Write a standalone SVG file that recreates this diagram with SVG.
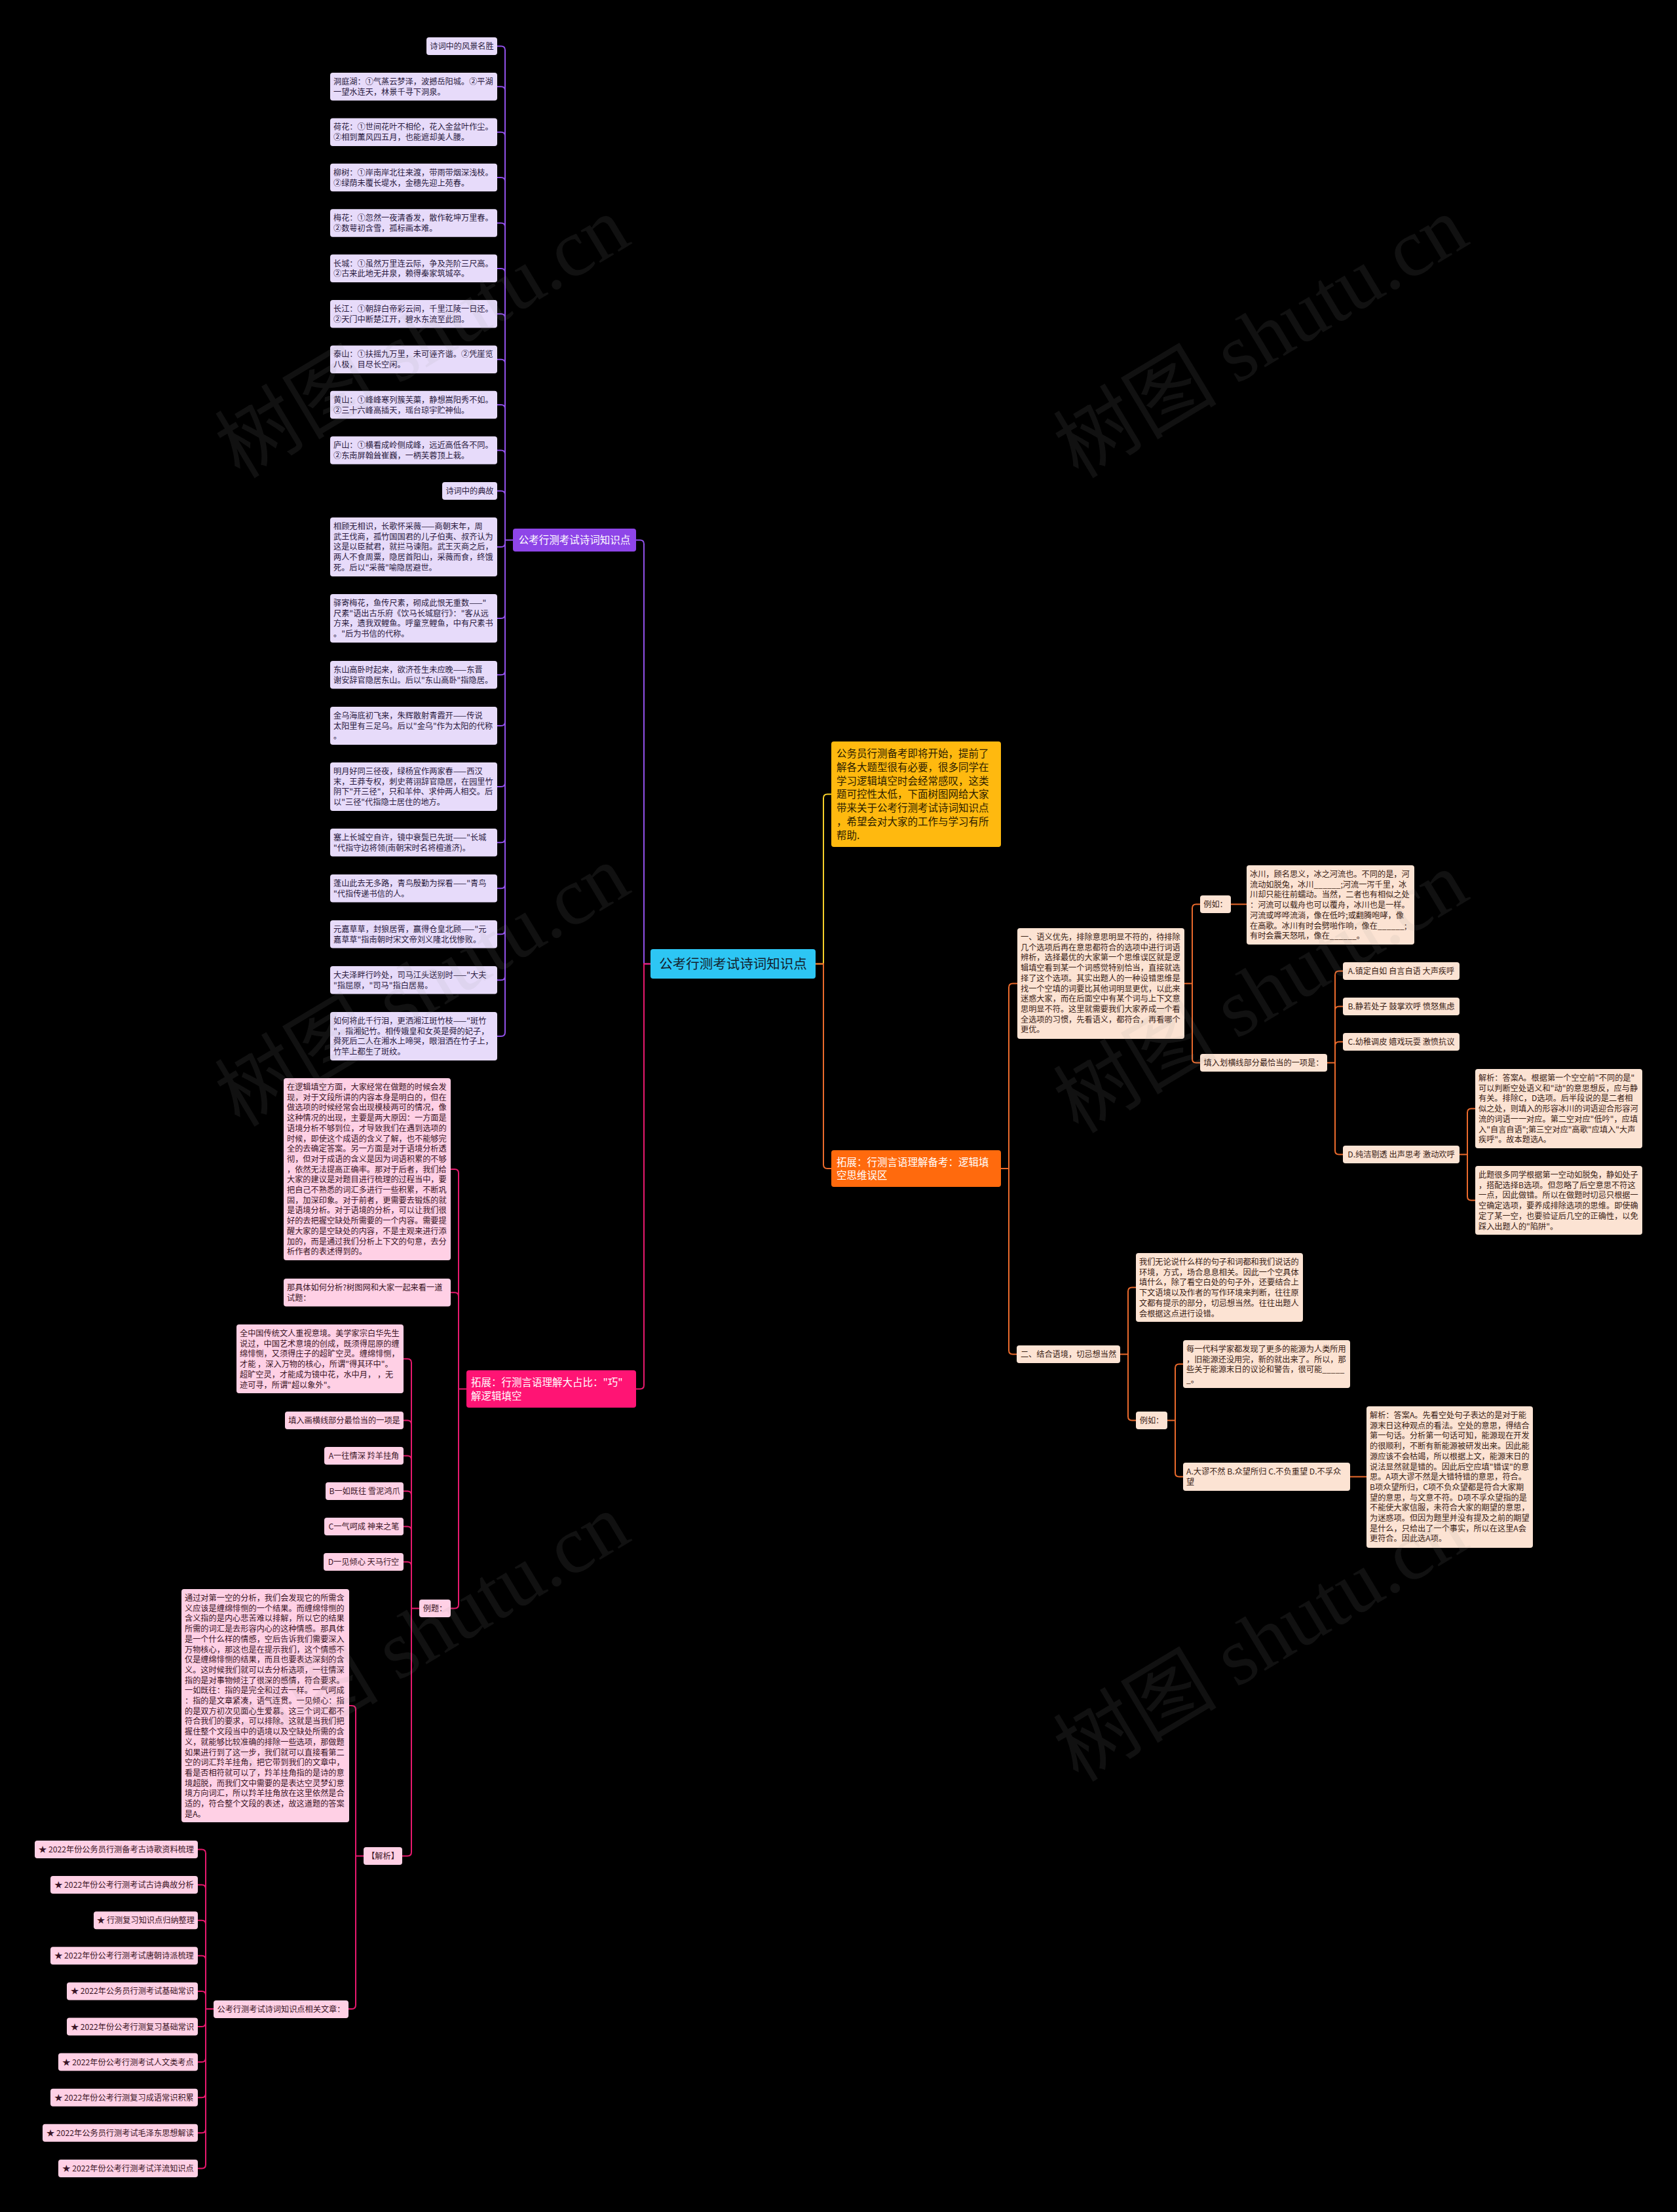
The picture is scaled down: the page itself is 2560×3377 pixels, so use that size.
<svg xmlns="http://www.w3.org/2000/svg" width="2560" height="3377" viewBox="0 0 2560 3377">
<style>
text{font-family:"Noto Sans CJK SC","Noto Sans",sans-serif}
.s{font-size:12.2px}
.m{font-size:15.5px}
.c{text-anchor:middle}
.pl{fill:#E7DBFA}
.pt{fill:#2A1A40}
.kl{fill:#FFD0E5}
.kt{fill:#3A1526}
.ol{fill:#FCE3D3}
.ot{fill:#3A2215}
.cp{fill:none;stroke:#9050E8;stroke-width:2}
.ck{fill:none;stroke:#E8196E;stroke-width:2}
.co{fill:none;stroke:#EA6A2C;stroke-width:2}
.cy{fill:none;stroke:#F7D02A;stroke-width:2}
.wm{font-family:"Liberation Serif","Noto Sans CJK SC",serif;font-size:125px;fill:#999;fill-opacity:.11;text-anchor:middle}
</style>
<rect width="2560" height="3377" fill="#000"/>

<g id="connectors">
<path class="cp" d="M993 1471.5H983V830.5Q983 824.5 977 824.5H971"/>
<path class="ck" d="M993 1471.5H983V2114.5Q983 2120.5 977 2120.5H971"/>
<path class="cy" d="M1245 1471.5H1257V1218.5Q1257 1212.5 1263 1212.5H1269"/>
<path class="co" d="M1245 1471.5H1257V1778Q1257 1784 1263 1784H1269"/>
<path class="cp" d="M783 824.5H771V76.5Q771 70.5 765 70.5H759M783 824.5H771V138.3Q771 132.3 765 132.3H759M783 824.5H771V207.7Q771 201.7 765 201.7H759M783 824.5H771V277.1Q771 271.1 765 271.1H759M783 824.5H771V346.5Q771 340.5 765 340.5H759M783 824.5H771V415.9Q771 409.9 765 409.9H759M783 824.5H771V485.3Q771 479.3 765 479.3H759M783 824.5H771V554.7Q771 548.7 765 548.7H759M783 824.5H771V624.1Q771 618.1 765 618.1H759M783 824.5H771V693.5Q771 687.5 765 687.5H759M783 824.5H771V755.5Q771 749.5 765 749.5H759M783 824.5H771V829Q771 835 765 835H759M783 824.5H771V938Q771 944 765 944H759M783 824.5H771V1024.3Q771 1030.3 765 1030.3H759M783 824.5H771V1102Q771 1108 765 1108H759M783 824.5H771V1195Q771 1201 765 1201H759M783 824.5H771V1280.3Q771 1286.3 765 1286.3H759M783 824.5H771V1350.3Q771 1356.3 765 1356.3H759M783 824.5H771V1420.3Q771 1426.3 765 1426.3H759M783 824.5H771V1490.3Q771 1496.3 765 1496.3H759M783 824.5H771V1576Q771 1582 765 1582H759"/>
<path class="ck" d="M712 2120.5H700V1791Q700 1785 694 1785H688M712 2120.5H700V1979.3Q700 1973.3 694 1973.3H688M712 2120.5H700V2449.5Q700 2455.5 694 2455.5H688"/>
<path class="ck" d="M640 2455.5H628V2080.5Q628 2074.5 622 2074.5H616M640 2455.5H628V2174.5Q628 2168.5 622 2168.5H616M640 2455.5H628V2228.5Q628 2222.5 622 2222.5H616M640 2455.5H628V2282.5Q628 2276.5 622 2276.5H616M640 2455.5H628V2336.5Q628 2330.5 622 2330.5H616M640 2455.5H628V2390.5Q628 2384.5 622 2384.5H616M640 2455.5H628V2827.5Q628 2833.5 622 2833.5H614"/>
<path class="ck" d="M555 2833.5H543V2610Q543 2604 537 2604H533M555 2833.5H543V3061Q543 3067 537 3067H532"/>
<path class="ck" d="M326 3067H314V2829.5Q314 2823.5 308 2823.5H302M326 3067H314V2883.6Q314 2877.6 308 2877.6H302M326 3067H314V2937.7Q314 2931.7 308 2931.7H302M326 3067H314V2991.8Q314 2985.8 308 2985.8H302M326 3067H314V3045.9Q314 3039.9 308 3039.9H302M326 3067H314V3088Q314 3094 308 3094H302M326 3067H314V3142.1Q314 3148.1 308 3148.1H302M326 3067H314V3196.2Q314 3202.2 308 3202.2H302M326 3067H314V3250.3Q314 3256.3 308 3256.3H302M326 3067H314V3304.4Q314 3310.4 308 3310.4H302"/>
<path class="co" d="M1528 1784H1540V1507.5Q1540 1501.5 1546 1501.5H1553M1528 1784H1540V2061.5Q1540 2067.5 1546 2067.5H1552"/>
<path class="co" d="M1808 1501.5H1820V1386.5Q1820 1380.5 1826 1380.5H1832M1808 1501.5H1820V1616.5Q1820 1622.5 1826 1622.5H1832M1879 1380.5H1903"/>
<path class="co" d="M2026 1622.5H2038V1488.5Q2038 1482.5 2044 1482.5H2050M2026 1622.5H2038V1542.5Q2038 1536.5 2044 1536.5H2050M2026 1622.5H2038V1596.5Q2038 1590.5 2044 1590.5H2050M2026 1622.5H2038V1756.5Q2038 1762.5 2044 1762.5H2050"/>
<path class="co" d="M2228 1762.5H2240V1698.5Q2240 1692.5 2246 1692.5H2252M2228 1762.5H2240V1826.5Q2240 1832.5 2246 1832.5H2252"/>
<path class="co" d="M1710 2067.5H1722V1971.5Q1722 1965.5 1728 1965.5H1734M1710 2067.5H1722V2162.5Q1722 2168.5 1728 2168.5H1734"/>
<path class="co" d="M1782 2168.5H1794V2088.5Q1794 2082.5 1800 2082.5H1806M1782 2168.5H1794V2248.5Q1794 2254.5 1800 2254.5H1806M2061 2254.5H2086"/>
</g>

<g id="root"><rect x="993" y="1449" width="252" height="45" rx="4" fill="#2DC6F4"/><text x="1119" y="1479" class="c" font-size="20.5" fill="#13222E">公考行测考试诗词知识点</text></g>

<g id="intro"><rect x="1269" y="1132" width="259" height="161" rx="4" fill="#FFB90F"/>
<text class="m" x="1277" y="1156" fill="#2B1D00"><tspan x="1277">公务员行测备考即将开始，提前了</tspan><tspan x="1277" dy="20.8">解各大题型很有必要，很多同学在</tspan><tspan x="1277" dy="20.8">学习逻辑填空时会经常感叹，这类</tspan><tspan x="1277" dy="20.8">题可控性太低，下面树图网给大家</tspan><tspan x="1277" dy="20.8">带来关于公考行测考试诗词知识点</tspan><tspan x="1277" dy="20.8">，希望会对大家的工作与学习有所</tspan><tspan x="1277" dy="20.8">帮助.</tspan></text></g>

<g id="purple-main"><rect x="783" y="807" width="188" height="35" rx="4" fill="#8E45E8"/><text class="m c" x="877" y="830.4" fill="#fff">公考行测考试诗词知识点</text></g>

<g id="p0"><rect class="pl" x="651" y="57" width="108" height="27" rx="4"/><text class="s pt c" x="705" y="75">诗词中的风景名胜</text></g>
<g id="p1"><rect class="pl" x="504" y="111" width="255" height="42.5" rx="4"/><text class="s pt" x="509" y="129"><tspan x="509">洞庭湖：①气蒸云梦泽，波撼岳阳城。②平湖</tspan><tspan x="509" dy="15.7">一望水连天，林景千寻下洞泉。</tspan></text></g>
<g id="p2"><rect class="pl" x="504" y="180.4" width="255" height="42.5" rx="4"/><text class="s pt" x="509" y="198.4"><tspan x="509">荷花：①世间花叶不相伦，花入金盆叶作尘。</tspan><tspan x="509" dy="15.7">②相到薰风四五月，也能遮却美人腰。</tspan></text></g>
<g id="p3"><rect class="pl" x="504" y="249.8" width="255" height="42.5" rx="4"/><text class="s pt" x="509" y="267.8"><tspan x="509">柳树：①岸南岸北往来渡，带雨带烟深浅枝。</tspan><tspan x="509" dy="15.7">②绿荫未覆长堤水，金穗先迎上苑春。</tspan></text></g>
<g id="p4"><rect class="pl" x="504" y="319.2" width="255" height="42.5" rx="4"/><text class="s pt" x="509" y="337.2"><tspan x="509">梅花：①忽然一夜清香发，散作乾坤万里春。</tspan><tspan x="509" dy="15.7">②数萼初含雪，孤标画本难。</tspan></text></g>
<g id="p5"><rect class="pl" x="504" y="388.6" width="255" height="42.5" rx="4"/><text class="s pt" x="509" y="406.6"><tspan x="509">长城：①虽然万里连云际，争及尧阶三尺高。</tspan><tspan x="509" dy="15.7">②古来此地无井泉，赖得秦家筑城卒。</tspan></text></g>
<g id="p6"><rect class="pl" x="504" y="458" width="255" height="42.5" rx="4"/><text class="s pt" x="509" y="476"><tspan x="509">长江：①朝辞白帝彩云间，千里江陵一日还。</tspan><tspan x="509" dy="15.7">②天门中断楚江开，碧水东流至此回。</tspan></text></g>
<g id="p7"><rect class="pl" x="504" y="527.4" width="255" height="42.5" rx="4"/><text class="s pt" x="509" y="545.4"><tspan x="509">泰山：①扶摇九万里，未可诬齐谐。②凭崖览</tspan><tspan x="509" dy="15.7">八极，目尽长空闲。</tspan></text></g>
<g id="p8"><rect class="pl" x="504" y="596.8" width="255" height="42.5" rx="4"/><text class="s pt" x="509" y="614.8"><tspan x="509">黄山：①峰峰寒列簇芙蕖，静想嵩阳秀不如。</tspan><tspan x="509" dy="15.7">②三十六峰高插天，瑶台琼宇贮神仙。</tspan></text></g>
<g id="p9"><rect class="pl" x="504" y="666.2" width="255" height="42.5" rx="4"/><text class="s pt" x="509" y="684.2"><tspan x="509">庐山：①横看成岭侧成峰，远近高低各不同。</tspan><tspan x="509" dy="15.7">②东南屏翰耸崔巍，一柄芙蓉顶上栽。</tspan></text></g>
<g id="p10"><rect class="pl" x="675" y="736" width="84" height="27" rx="4"/><text class="s pt c" x="717" y="754">诗词中的典故</text></g>
<g id="p11"><rect class="pl" x="504" y="790" width="255" height="90" rx="4"/><text class="s pt" x="509" y="808"><tspan x="509">相顾无相识，长歌怀采薇——商朝末年，周</tspan><tspan x="509" dy="15.7">武王伐商，孤竹国国君的儿子伯夷、叔齐认为</tspan><tspan x="509" dy="15.7">这是以臣弑君，就拦马谏阻。武王灭商之后，</tspan><tspan x="509" dy="15.7">两人不食周粟，隐居首阳山，采薇而食，终饿</tspan><tspan x="509" dy="15.7">死。后以"采薇"喻隐居避世。</tspan></text></g>
<g id="p12"><rect class="pl" x="504" y="907" width="255" height="74" rx="4"/><text class="s pt" x="509" y="925"><tspan x="509">驿寄梅花，鱼传尺素，砌成此恨无重数——"</tspan><tspan x="509" dy="15.7">尺素"语出古乐府《饮马长城窟行》："客从远</tspan><tspan x="509" dy="15.7">方来，遗我双鲤鱼。呼童烹鲤鱼，中有尺素书</tspan><tspan x="509" dy="15.7">。"后为书信的代称。</tspan></text></g>
<g id="p13"><rect class="pl" x="504" y="1009" width="255" height="42.5" rx="4"/><text class="s pt" x="509" y="1027"><tspan x="509">东山高卧时起来，欲济苍生未应晚——东晋</tspan><tspan x="509" dy="15.7">谢安辞官隐居东山。后以"东山高卧"指隐居。</tspan></text></g>
<g id="p14"><rect class="pl" x="504" y="1079" width="255" height="58" rx="4"/><text class="s pt" x="509" y="1097"><tspan x="509">金乌海底初飞来，朱辉散射青霞开——传说</tspan><tspan x="509" dy="15.7">太阳里有三足乌。后以"金乌"作为太阳的代称</tspan><tspan x="509" dy="15.7">。</tspan></text></g>
<g id="p15"><rect class="pl" x="504" y="1164" width="255" height="74" rx="4"/><text class="s pt" x="509" y="1182"><tspan x="509">明月好同三径夜，绿杨宜作两家春——西汉</tspan><tspan x="509" dy="15.7">末，王莽专权，刺史蒋诩辞官隐居，在园里竹</tspan><tspan x="509" dy="15.7">阴下"开三径"，只和羊仲、求仲两人相交。后</tspan><tspan x="509" dy="15.7">以"三径"代指隐士居住的地方。</tspan></text></g>
<g id="p16"><rect class="pl" x="504" y="1265" width="255" height="42.5" rx="4"/><text class="s pt" x="509" y="1283"><tspan x="509">塞上长城空自许，镜中衰鬓已先斑——"长城</tspan><tspan x="509" dy="15.7">"代指守边将领(南朝宋时名将檀道济)。</tspan></text></g>
<g id="p17"><rect class="pl" x="504" y="1335" width="255" height="42.5" rx="4"/><text class="s pt" x="509" y="1353"><tspan x="509">蓬山此去无多路，青鸟殷勤为探看——"青鸟</tspan><tspan x="509" dy="15.7">"代指传递书信的人。</tspan></text></g>
<g id="p18"><rect class="pl" x="504" y="1405" width="255" height="42.5" rx="4"/><text class="s pt" x="509" y="1423"><tspan x="509">元嘉草草，封狼居胥，赢得仓皇北顾——"元</tspan><tspan x="509" dy="15.7">嘉草草"指南朝时宋文帝刘义隆北伐惨败。</tspan></text></g>
<g id="p19"><rect class="pl" x="504" y="1475" width="255" height="42.5" rx="4"/><text class="s pt" x="509" y="1493"><tspan x="509">大夫泽畔行吟处，司马江头送别时——"大夫</tspan><tspan x="509" dy="15.7">"指屈原，"司马"指白居易。</tspan></text></g>
<g id="p20"><rect class="pl" x="504" y="1545" width="255" height="74" rx="4"/><text class="s pt" x="509" y="1563"><tspan x="509">如何将此千行泪，更洒湘江斑竹枝——"斑竹</tspan><tspan x="509" dy="15.7">"，指湘妃竹。相传娥皇和女英是舜的妃子，</tspan><tspan x="509" dy="15.7">舜死后二人在湘水上啼哭，眼泪洒在竹子上，</tspan><tspan x="509" dy="15.7">竹竿上都生了斑纹。</tspan></text></g>

<g id="pink-main"><rect x="712" y="2092" width="259" height="57" rx="4" fill="#FF1474"/><text class="m" x="719" y="2116" fill="#fff"><tspan x="719">拓展：行测言语理解大占比："巧"</tspan><tspan x="719" dy="20.8">解逻辑填空</tspan></text></g>
<g id="k1"><rect class="kl" x="433" y="1646" width="255" height="278" rx="4"/><text class="s kt" x="438" y="1664"><tspan x="438">在逻辑填空方面，大家经常在做题的时候会发</tspan><tspan x="438" dy="15.7">现，对于文段所讲的内容本身是明白的，但在</tspan><tspan x="438" dy="15.7">做选项的时候经常会出现模棱两可的情况，像</tspan><tspan x="438" dy="15.7">这种情况的出现，主要是两大原因：一方面是</tspan><tspan x="438" dy="15.7">语境分析不够到位，才导致我们在遇到选项的</tspan><tspan x="438" dy="15.7">时候，即使这个成语的含义了解，也不能够完</tspan><tspan x="438" dy="15.7">全的去确定答案。另一方面是对于语境分析透</tspan><tspan x="438" dy="15.7">彻，但对于成语的含义是因为词语积累的不够</tspan><tspan x="438" dy="15.7">，依然无法提高正确率。那对于后者，我们给</tspan><tspan x="438" dy="15.7">大家的建议是对题目进行梳理的过程当中，要</tspan><tspan x="438" dy="15.7">把自己不熟悉的词汇多进行一些积累，不断巩</tspan><tspan x="438" dy="15.7">固，加深印象。对于前者，更需要去锻炼的就</tspan><tspan x="438" dy="15.7">是语境分析。对于语境的分析，可以让我们很</tspan><tspan x="438" dy="15.7">好的去把握空缺处所需要的一个内容。需要提</tspan><tspan x="438" dy="15.7">醒大家的是空缺处的内容，不是主观来进行添</tspan><tspan x="438" dy="15.7">加的，而是通过我们分析上下文的句意，去分</tspan><tspan x="438" dy="15.7">析作者的表述得到的。</tspan></text></g>
<g id="k2"><rect class="kl" x="433" y="1952" width="255" height="42.5" rx="4"/><text class="s kt" x="438" y="1970"><tspan x="438">那具体如何分析?树图网和大家一起来看一道</tspan><tspan x="438" dy="15.7">试题：</tspan></text></g>
<g id="k3"><rect class="kl" x="640" y="2442" width="48" height="27" rx="4"/><text class="s kt c" x="664" y="2460">例题：</text></g>
<g id="k4"><rect class="kl" x="361" y="2022" width="255" height="105" rx="4"/><text class="s kt" x="366" y="2040"><tspan x="366">全中国传统文人重视意境。美学家宗白华先生</tspan><tspan x="366" dy="15.7">说过，中国艺术意境的创成，既须得屈原的缠</tspan><tspan x="366" dy="15.7">绵悱恻，又须得庄子的超旷空灵。缠绵悱恻，</tspan><tspan x="366" dy="15.7">才能 ，深入万物的核心，所谓"得其环中"。</tspan><tspan x="366" dy="15.7">超旷空灵，才能成为镜中花，水中月， ，无</tspan><tspan x="366" dy="15.7">迹可寻，所谓"超以象外"。</tspan></text></g>
<g id="k5"><rect class="kl" x="435" y="2155" width="181" height="27" rx="4"/><text class="s kt c" x="525.5" y="2173">填入画横线部分最恰当的一项是</text></g>
<g id="k6"><rect class="kl" x="495" y="2209" width="121" height="27" rx="4"/><text class="s kt c" x="555.5" y="2227">A一往情深 羚羊挂角</text></g>
<g id="k7"><rect class="kl" x="497" y="2263" width="119" height="27" rx="4"/><text class="s kt c" x="556.5" y="2281">B一如既往 雪泥鸿爪</text></g>
<g id="k8"><rect class="kl" x="495" y="2317" width="121" height="27" rx="4"/><text class="s kt c" x="555.5" y="2335">C一气呵成 神来之笔</text></g>
<g id="k9"><rect class="kl" x="494" y="2371" width="122" height="27" rx="4"/><text class="s kt c" x="555" y="2389">D一见倾心 天马行空</text></g>
<g id="k10"><rect class="kl" x="555" y="2820" width="59" height="27" rx="4"/><text class="s kt c" x="584.5" y="2838">【解析】</text></g>
<g id="k11"><rect class="kl" x="277" y="2426" width="256" height="356" rx="4"/><text class="s kt" x="282" y="2444"><tspan x="282">通过对第一空的分析，我们会发现它的所需含</tspan><tspan x="282" dy="15.7">义应该是缠绵悱恻的一个结果。而缠绵悱恻的</tspan><tspan x="282" dy="15.7">含义指的是内心悲苦难以排解，所以它的结果</tspan><tspan x="282" dy="15.7">所需的词汇是去形容内心的这种情感。那具体</tspan><tspan x="282" dy="15.7">是一个什么样的情感，空后告诉我们需要深入</tspan><tspan x="282" dy="15.7">万物核心，那这也是在提示我们，这个情感不</tspan><tspan x="282" dy="15.7">仅是缠绵悱恻的结果，而且也要表达深刻的含</tspan><tspan x="282" dy="15.7">义。这时候我们就可以去分析选项，一往情深</tspan><tspan x="282" dy="15.7">指的是对事物倾注了很深的感情，符合要求。</tspan><tspan x="282" dy="15.7">一如既往：指的是完全和过去一样。一气呵成</tspan><tspan x="282" dy="15.7">：指的是文章紧凑，语气连贯。一见倾心：指</tspan><tspan x="282" dy="15.7">的是双方初次见面心生爱慕。这三个词汇都不</tspan><tspan x="282" dy="15.7">符合我们的要求，可以排除。这就是当我们把</tspan><tspan x="282" dy="15.7">握住整个文段当中的语境以及空缺处所需的含</tspan><tspan x="282" dy="15.7">义，就能够比较准确的排除一些选项，那做题</tspan><tspan x="282" dy="15.7">如果进行到了这一步，我们就可以直接看第二</tspan><tspan x="282" dy="15.7">空的词汇羚羊挂角，把它带到我们的文章中，</tspan><tspan x="282" dy="15.7">看是否相符就可以了，羚羊挂角指的是诗的意</tspan><tspan x="282" dy="15.7">境超脱，而我们文中需要的是表达空灵梦幻意</tspan><tspan x="282" dy="15.7">境方向词汇，所以羚羊挂角放在这里依然是合</tspan><tspan x="282" dy="15.7">适的，符合整个文段的表述，故这道题的答案</tspan><tspan x="282" dy="15.7">是A。</tspan></text></g>
<g id="k12"><rect class="kl" x="326" y="3054" width="206" height="27" rx="4"/><text class="s kt c" x="429" y="3072">公考行测考试诗词知识点相关文章：</text></g>
<g id="a1"><rect class="kl" x="53" y="2810" width="249" height="27" rx="4"/><text class="s kt c" x="177.5" y="2828">★ 2022年份公务员行测备考古诗歌资料梳理</text></g>
<g id="a2"><rect class="kl" x="77" y="2864.1" width="225" height="27" rx="4"/><text class="s kt c" x="189.5" y="2882.1">★ 2022年份公考行测考试古诗典故分析</text></g>
<g id="a3"><rect class="kl" x="143" y="2918.2" width="159" height="27" rx="4"/><text class="s kt c" x="222.5" y="2936.2">★ 行测复习知识点归纳整理</text></g>
<g id="a4"><rect class="kl" x="77" y="2972.3" width="225" height="27" rx="4"/><text class="s kt c" x="189.5" y="2990.3">★ 2022年份公考行测考试唐朝诗派梳理</text></g>
<g id="a5"><rect class="kl" x="102" y="3026.4" width="200" height="27" rx="4"/><text class="s kt c" x="202" y="3044.4">★ 2022年公务员行测考试基础常识</text></g>
<g id="a6"><rect class="kl" x="102" y="3080.5" width="200" height="27" rx="4"/><text class="s kt c" x="202" y="3098.5">★ 2022年份公考行测复习基础常识</text></g>
<g id="a7"><rect class="kl" x="89" y="3134.6" width="213" height="27" rx="4"/><text class="s kt c" x="195.5" y="3152.6">★ 2022年份公考行测考试人文类考点</text></g>
<g id="a8"><rect class="kl" x="77" y="3188.7" width="225" height="27" rx="4"/><text class="s kt c" x="189.5" y="3206.7">★ 2022年份公考行测复习成语常识积累</text></g>
<g id="a9"><rect class="kl" x="65" y="3242.8" width="237" height="27" rx="4"/><text class="s kt c" x="183.5" y="3260.8">★ 2022年公务员行测考试毛泽东思想解读</text></g>
<g id="a10"><rect class="kl" x="89" y="3296.9" width="213" height="27" rx="4"/><text class="s kt c" x="195.5" y="3314.9">★ 2022年份公考行测考试洋流知识点</text></g>

<g id="orange-main"><rect x="1269" y="1756" width="259" height="56" rx="4" fill="#FF6A0D"/><text class="m" x="1277" y="1779.5" fill="#fff"><tspan x="1277">拓展：行测言语理解备考：逻辑填</tspan><tspan x="1277" dy="20.8">空思维误区</tspan></text></g>
<g id="o1"><rect class="ol" x="1553" y="1417" width="255" height="169" rx="4"/><text class="s ot" x="1558" y="1435"><tspan x="1558">一、语义优先，排除意思明显不符的，待排除</tspan><tspan x="1558" dy="15.7">几个选项后再在意思都符合的选项中进行词语</tspan><tspan x="1558" dy="15.7">辨析，选择最优的大家第一个思维误区就是逻</tspan><tspan x="1558" dy="15.7">辑填空看到某一个词感觉特别恰当，直接就选</tspan><tspan x="1558" dy="15.7">择了这个选项。其实出题人的一种设错思维是</tspan><tspan x="1558" dy="15.7">找一个空填的词要比其他词明显更优，以此来</tspan><tspan x="1558" dy="15.7">迷惑大家，而在后面空中有某个词与上下文意</tspan><tspan x="1558" dy="15.7">思明显不符。这里就需要我们大家养成一个看</tspan><tspan x="1558" dy="15.7">全选项的习惯，先看语义，都符合，再看哪个</tspan><tspan x="1558" dy="15.7">更优。</tspan></text></g>
<g id="o2"><rect class="ol" x="1832" y="1367" width="47" height="27" rx="4"/><text class="s ot c" x="1855.5" y="1385">例如：</text></g>
<g id="o3"><rect class="ol" x="1903" y="1321" width="256" height="121" rx="4"/><text class="s ot" x="1908" y="1339"><tspan x="1908">冰川，顾名思义，冰之河流也。不同的是，河</tspan><tspan x="1908" dy="15.7">流动如脱兔，冰川______;河流一泻千里，冰</tspan><tspan x="1908" dy="15.7">川却只能往前蠕动。当然，二者也有相似之处</tspan><tspan x="1908" dy="15.7">：河流可以载舟也可以覆舟，冰川也是一样。</tspan><tspan x="1908" dy="15.7">河流或哗哗流淌，像在低吟;或翻腾咆哮，像</tspan><tspan x="1908" dy="15.7">在高歌。冰川有时会劈啪作响，像在______;</tspan><tspan x="1908" dy="15.7">有时会震天怒吼，像在______。</tspan></text></g>
<g id="o4"><rect class="ol" x="1832" y="1609" width="194" height="27" rx="4"/><text class="s ot c" x="1929" y="1627">填入划横线部分最恰当的一项是：</text></g>
<g id="o5"><rect class="ol" x="2050" y="1469" width="178" height="27" rx="4"/><text class="s ot c" x="2139" y="1487">A.镇定自如 自言自语 大声疾呼</text></g>
<g id="o6"><rect class="ol" x="2050" y="1523" width="178" height="27" rx="4"/><text class="s ot c" x="2139" y="1541">B.静若处子 鼓掌欢呼 愤怒焦虑</text></g>
<g id="o7"><rect class="ol" x="2050" y="1577" width="178" height="27" rx="4"/><text class="s ot c" x="2139" y="1595">C.幼稚调皮 嬉戏玩耍 激愤抗议</text></g>
<g id="o8"><rect class="ol" x="2050" y="1749" width="178" height="27" rx="4"/><text class="s ot c" x="2139" y="1767">D.纯洁剔透 出声思考 激动欢呼</text></g>
<g id="o9"><rect class="ol" x="2252" y="1632" width="255" height="121" rx="4"/><text class="s ot" x="2257" y="1650"><tspan x="2257">解析：答案A。根据第一个空空前"不同的是"</tspan><tspan x="2257" dy="15.7">可以判断空处语义和"动"的意思想反，应与静</tspan><tspan x="2257" dy="15.7">有关。排除C，D选项。后半段说的是二者相</tspan><tspan x="2257" dy="15.7">似之处，则填入的形容冰川的词语迎合形容河</tspan><tspan x="2257" dy="15.7">流的词语一一对应。第二空对应"低吟"，应填</tspan><tspan x="2257" dy="15.7">入"自言自语";第三空对应"高歌"应填入"大声</tspan><tspan x="2257" dy="15.7">疾呼"。故本题选A。</tspan></text></g>
<g id="o10"><rect class="ol" x="2252" y="1780" width="255" height="105" rx="4"/><text class="s ot" x="2257" y="1798"><tspan x="2257">此题很多同学根据第一空动如脱兔，静如处子</tspan><tspan x="2257" dy="15.7">，搭配选择B选项。但忽略了后空意思不符这</tspan><tspan x="2257" dy="15.7">一点，因此做错。所以在做题时切忌只根据一</tspan><tspan x="2257" dy="15.7">空确定选项，要养成排除选项的思维。即使确</tspan><tspan x="2257" dy="15.7">定了某一空，也要验证后几空的正确性，以免</tspan><tspan x="2257" dy="15.7">踩入出题人的"陷阱"。</tspan></text></g>
<g id="o11"><rect class="ol" x="1552" y="2054" width="158" height="27" rx="4"/><text class="s ot c" x="1631" y="2072">二、结合语境，切忌想当然</text></g>
<g id="o12"><rect class="ol" x="1734" y="1913" width="255" height="105" rx="4"/><text class="s ot" x="1739" y="1931"><tspan x="1739">我们无论说什么样的句子和词都和我们说话的</tspan><tspan x="1739" dy="15.7">环境，方式，场合息息相关。因此一个空具体</tspan><tspan x="1739" dy="15.7">填什么，除了看空白处的句子外，还要结合上</tspan><tspan x="1739" dy="15.7">下文语境以及作者的写作环境来判断，往往原</tspan><tspan x="1739" dy="15.7">文都有提示的部分，切忌想当然。往往出题人</tspan><tspan x="1739" dy="15.7">会根据这点进行设错。</tspan></text></g>
<g id="o13"><rect class="ol" x="1734" y="2155" width="48" height="27" rx="4"/><text class="s ot c" x="1758" y="2173">例如：</text></g>
<g id="o14"><rect class="ol" x="1806" y="2046" width="255" height="73" rx="4"/><text class="s ot" x="1811" y="2064"><tspan x="1811">每一代科学家都发现了更多的能源为人类所用</tspan><tspan x="1811" dy="15.7">，旧能源还没用完，新的就出来了。所以，那</tspan><tspan x="1811" dy="15.7">些关于能源末日的议论和警告，很可能_____</tspan><tspan x="1811" dy="15.7">_。</tspan></text></g>
<g id="o15"><rect class="ol" x="1806" y="2233" width="255" height="43" rx="4"/><text class="s ot" x="1811" y="2251"><tspan x="1811">A.大谬不然 B.众望所归 C.不负重望 D.不孚众</tspan><tspan x="1811" dy="15.7">望</tspan></text></g>
<g id="o16"><rect class="ol" x="2086" y="2147" width="254" height="216" rx="4"/><text class="s ot" x="2091" y="2165"><tspan x="2091">解析：答案A。先看空处句子表达的是对于能</tspan><tspan x="2091" dy="15.7">源末日这种观点的看法。空处的意思，得结合</tspan><tspan x="2091" dy="15.7">第一句话。分析第一句话可知，能源现在开发</tspan><tspan x="2091" dy="15.7">的很顺利，不断有新能源被研发出来。因此能</tspan><tspan x="2091" dy="15.7">源应该不会枯竭，所以根据上文，能源末日的</tspan><tspan x="2091" dy="15.7">说法显然就是错的。因此后空应填"错误"的意</tspan><tspan x="2091" dy="15.7">思。A项大谬不然是大错特错的意思，符合。</tspan><tspan x="2091" dy="15.7">B项众望所归，C项不负众望都是符合大家期</tspan><tspan x="2091" dy="15.7">望的意思，与文意不符。D项不孚众望指的是</tspan><tspan x="2091" dy="15.7">不能使大家信服，未符合大家的期望的意思，</tspan><tspan x="2091" dy="15.7">为迷惑项。但因为题里并没有提及之前的期望</tspan><tspan x="2091" dy="15.7">是什么，只给出了一个事实，所以在这里A会</tspan><tspan x="2091" dy="15.7">更符合。因此选A项。</tspan></text></g>

<g id="watermarks">
<text class="wm" transform="translate(646 517) rotate(-31)" y="40">树图 shutu.cn</text>
<text class="wm" transform="translate(1926 517) rotate(-31)" y="40">树图 shutu.cn</text>
<text class="wm" transform="translate(646 1507) rotate(-31)" y="40">树图 shutu.cn</text>
<text class="wm" transform="translate(1926 1517) rotate(-31)" y="40">树图 shutu.cn</text>
<text class="wm" transform="translate(646 2497) rotate(-31)" y="40">树图 shutu.cn</text>
<text class="wm" transform="translate(1926 2507) rotate(-31)" y="40">树图 shutu.cn</text>
</g>
</svg>
